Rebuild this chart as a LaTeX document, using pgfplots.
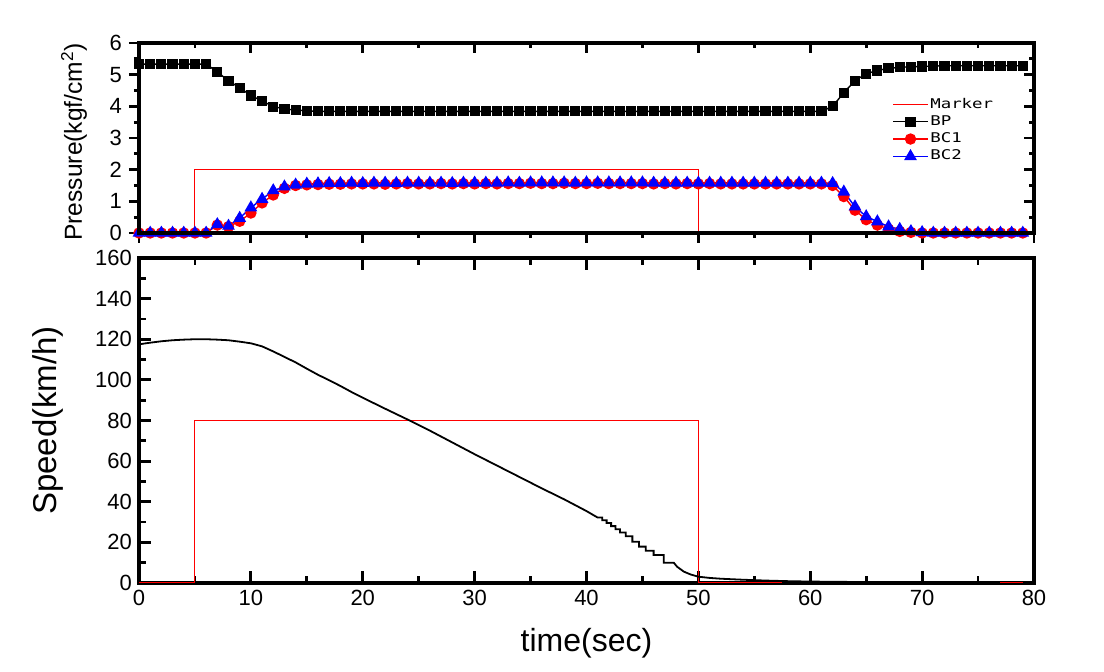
\documentclass[border=0pt]{standalone}
\usepackage{fontspec}
\setmainfont{Liberation Sans}
\newfontfamily\legfont[FakeStretch=1.3]{DejaVu Sans Mono}
\usepackage{pgfplots}
\usepackage{pgfplotstable}
\pgfplotsset{compat=1.18}

% pressure samples, one per second
\pgfplotstableread{
t  BP    BC1   BC2
0  5.33  0.00  0.00
1  5.33  0.00  0.00
2  5.33  0.00  0.00
3  5.33  0.00  0.00
4  5.33  0.00  0.00
5  5.33  0.00  0.00
6  5.33  0.00  0.00
7  5.09  0.25  0.27
8  4.80  0.20  0.22
9  4.59  0.37  0.47
10 4.34  0.63  0.80
11 4.17  0.95  1.07
12 3.99  1.20  1.34
13 3.92  1.41  1.46
14 3.88  1.50  1.52
15 3.86  1.52  1.55
16 3.84  1.53  1.56
17 3.84  1.54  1.57
18 3.84  1.54  1.57
19 3.84  1.55  1.58
20 3.84  1.55  1.57
21 3.84  1.55  1.58
22 3.84  1.54  1.58
23 3.84  1.55  1.57
24 3.84  1.56  1.58
25 3.84  1.55  1.58
26 3.84  1.55  1.58
27 3.84  1.56  1.58
28 3.84  1.55  1.57
29 3.84  1.56  1.58
30 3.84  1.55  1.58
31 3.84  1.56  1.58
32 3.84  1.55  1.58
33 3.84  1.56  1.59
34 3.84  1.56  1.58
35 3.84  1.57  1.59
36 3.84  1.56  1.59
37 3.84  1.56  1.59
38 3.84  1.57  1.59
39 3.84  1.56  1.58
40 3.84  1.56  1.59
41 3.84  1.57  1.59
42 3.84  1.56  1.59
43 3.84  1.56  1.59
44 3.84  1.56  1.59
45 3.84  1.56  1.59
46 3.84  1.55  1.58
47 3.84  1.56  1.58
48 3.84  1.55  1.58
49 3.84  1.56  1.58
50 3.84  1.55  1.58
51 3.84  1.56  1.58
52 3.84  1.55  1.58
53 3.84  1.55  1.58
54 3.84  1.55  1.58
55 3.84  1.55  1.58
56 3.84  1.55  1.58
57 3.84  1.55  1.58
58 3.84  1.55  1.58
59 3.84  1.55  1.58
60 3.84  1.55  1.58
61 3.84  1.55  1.58
62 4.00  1.50  1.57
63 4.43  1.15  1.30
64 4.81  0.72  0.83
65 5.03  0.42  0.52
66 5.13  0.25  0.36
67 5.20  0.12  0.20
68 5.23  0.05  0.12
69 5.25  0.02  0.05
70 5.26  0.00  0.02
71 5.27  0.00  0.00
72 5.28  0.00  0.00
73 5.28  0.00  0.00
74 5.28  0.00  0.00
75 5.28  0.00  0.00
76 5.28  0.00  0.00
77 5.28  0.00  0.00
78 5.28  0.00  0.00
79 5.28  0.00  0.00
}\pressure

\pgfplotsset{
  frame/.style={
    scale only axis, width=447.5pt,
    xmin=0, xmax=80, xtick={0,10,...,80}, minor x tick num=1,
    axis line style={line width=1.6pt},
    every tick/.style={black, line width=1.4pt},
    tick label style={font=\fontsize{11}{13}\selectfont},
    /pgf/number format/assume math mode=true,
  },
}

\begin{document}
\begin{tikzpicture}
\path[use as bounding box] (0,0) rectangle (552pt,336pt);

% ---- pressure (left/bottom ticks outside)
\begin{axis}[frame, at={(69.5pt,219.5pt)}, anchor=origin, height=95pt,
  ymin=0, ymax=6, ytick={0,...,6}, minor y tick num=1,
  xtick pos=bottom, ytick pos=left, tick align=outside,
  major tick length=5pt, minor tick length=2.5pt,
  xticklabels={},
  ylabel={Pressure(kgf/cm\textsuperscript{2})},
  ylabel style={at={(axis description cs:-0.0726,0.48)}, anchor=center,
    font=\fontsize{12.3}{14}\selectfont},
  legend style={at={(0.835,0.745)}, anchor=north west, draw=none, fill=none,
    font=\legfont\fontsize{6.7}{7}\selectfont, row sep=0.2pt,
    nodes={inner sep=1pt}},
  legend cell align=left,
]
\addplot[red, line width=0.5pt] coordinates {(0,0)(5,0)(5,2)(50,2)(50,0)(79,0)};
\addlegendentry{Marker}
\addplot[black, line width=0.7pt, mark=square*, mark size=2.2pt] table[x=t, y=BP] {\pressure};
\addlegendentry{BP}
\addplot[red, line width=0.7pt, mark=*, mark size=2.5pt] table[x=t, y=BC1] {\pressure};
\addlegendentry{BC1}
\addplot[blue, line width=0.7pt, mark=triangle*, mark size=3pt] table[x=t, y=BC2] {\pressure};
\addlegendentry{BC2}
\end{axis}

% ---- pressure (top/right ticks inside)
\begin{axis}[frame, at={(69.5pt,219.5pt)}, anchor=origin, height=95pt,
  ymin=0, ymax=6, ytick={0,...,6}, minor y tick num=1,
  xtick pos=top, ytick pos=right, tick align=inside,
  major tick length=5pt, minor tick length=2.5pt,
  xticklabels={}, yticklabels={},
]
\end{axis}

% ---- speed
\begin{axis}[frame, at={(69.5pt,44.5pt)}, anchor=origin, height=162.5pt,
  ymin=0, ymax=160, ytick={0,20,...,160}, minor y tick num=1,
  xtick pos=both, ytick pos=left, tick align=inside,
  major tick length=6pt, minor tick length=3.5pt,
  unbounded coords=jump,
  xlabel={time(sec)},
  xlabel style={at={(axis description cs:0.5,-0.212)}, anchor=base,
    font=\fontsize{16}{18}\selectfont},
  ylabel={Speed(km/h)},
  ylabel style={at={(axis description cs:-0.1017,0.5)}, anchor=center,
    font=\fontsize{16.5}{18}\selectfont},
]
\addplot[red, line width=0.5pt] coordinates {
  (0,0)(5,0)(5,80)(50,80)(50,0)(57.5,0)(57.6,nan)(77,0)(79,0)};
\addplot[black, line width=0.9pt] coordinates {
  (0,117.5)(1,118.3)(2,119)(3,119.5)(4,119.8)(5,120)(6,120)(7,119.8)
  (8,119.5)(9,118.8)(10,118)(11,116.5)(12,114)(13,111.3)(14,108.6)
  (15,105.5)(16,102.5)(17,99.8)(18,97)(19,94)(20,91.2)(22,85.8)
  (24,80.5)(26,75)(28,69.2)(30,63.4)(32,57.8)(34,52.2)(36,46.6)
  (38,41.2)(40,35.4)(41,32.2)(41.4,32.2)(41.4,30.9)(41.8,30.9)(41.8,29.5)
  (42.2,29.5)(42.2,28.0)(42.6,28.0)(42.6,26.5)(43.0,26.5)(43.0,24.9)
  (43.5,24.9)(43.5,23.0)(44.1,23.0)(44.1,20.3)(44.7,20.3)(44.7,17.9)
  (45.3,17.9)(45.3,15.9)(46.0,15.9)(46.0,13.8)(46.9,13.8)(46.9,10.0)
  (47.8,10.0)(48.1,8.0)(48.4,6.8)(48.7,5.6)(49.3,4.2)(50,3.1)(51,2.5)
  (52,2.1)(54,1.6)(56,1.2)(58,0.9)(60,0.7)(62,0.6)(64,0.5)(66.8,0.4)};
\end{axis}
\end{tikzpicture}
\end{document}
